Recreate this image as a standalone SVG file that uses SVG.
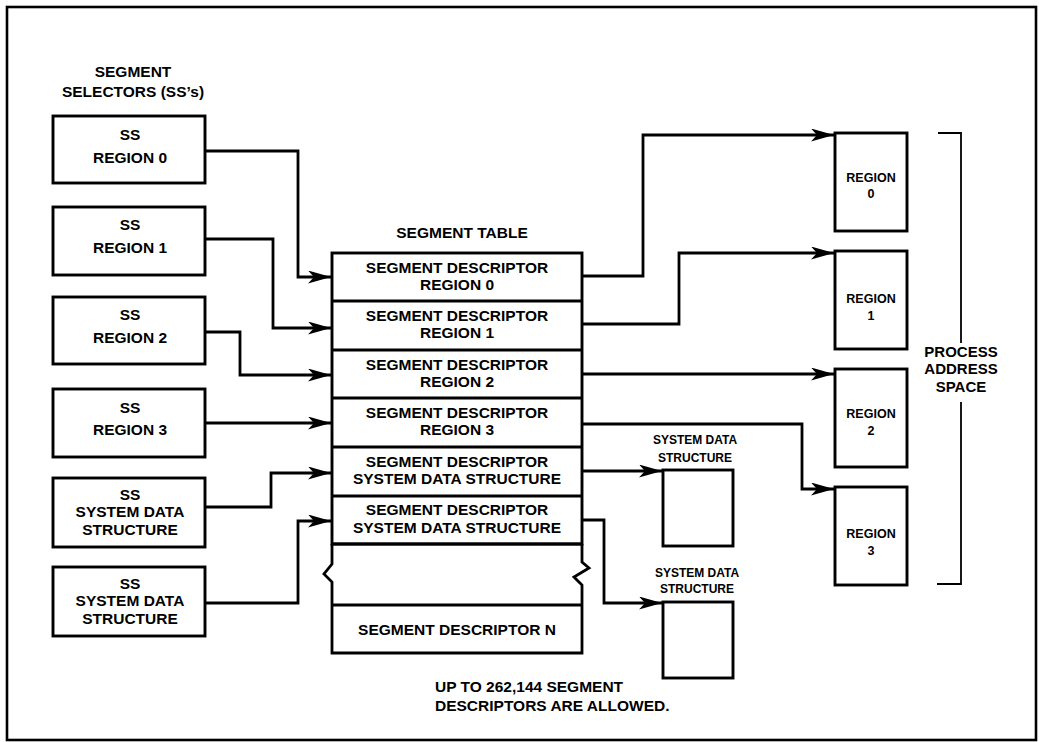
<svg xmlns="http://www.w3.org/2000/svg" width="1039" height="742" viewBox="0 0 1039 742">
<style>
.bx{fill:#fff;stroke:#000;stroke-width:2.9}
.ln{fill:none;stroke:#000;stroke-width:2.8;stroke-linejoin:miter}
.t{font-family:"Liberation Sans",Arial,sans-serif;font-weight:bold;fill:#000;text-anchor:middle}
.a{font-size:15.5px}
.b{font-size:15px}
.r{font-size:12.5px}
.s{font-size:12px}
</style>
<defs>
<marker id="ah" markerWidth="24" markerHeight="13" refX="23" refY="6.5" orient="auto" markerUnits="userSpaceOnUse">
<path d="M0,0 L23,6.5 L0,13 L6,6.5 z" fill="#000"/>
</marker>
</defs>
<rect x="0" y="0" width="1039" height="742" fill="#fff"/>
<rect x="7" y="7" width="1029" height="733" fill="none" stroke="#000" stroke-width="2.6"/>

<g id="ss-title">
<text class="t a" x="133" y="77">SEGMENT</text>
<text class="t a" x="133" y="97">SELECTORS (SS’s)</text>
</g>

<g id="ss0"><rect class="bx" x="53" y="116" width="152" height="67"/>
<text class="t a" x="130" y="140">SS</text><text class="t a" x="130" y="163">REGION 0</text></g>
<g id="ss1"><rect class="bx" x="53" y="207" width="152" height="68"/>
<text class="t a" x="130" y="230">SS</text><text class="t a" x="130" y="253">REGION 1</text></g>
<g id="ss2"><rect class="bx" x="53" y="297" width="152" height="67"/>
<text class="t a" x="130" y="320">SS</text><text class="t a" x="130" y="343">REGION 2</text></g>
<g id="ss3"><rect class="bx" x="53" y="389" width="152" height="68"/>
<text class="t a" x="130" y="413">SS</text><text class="t a" x="130" y="435">REGION 3</text></g>
<g id="ss4"><rect class="bx" x="53" y="478" width="152" height="69"/>
<text class="t a" x="130" y="500">SS</text><text class="t a" x="130" y="517">SYSTEM DATA</text><text class="t a" x="130" y="535">STRUCTURE</text></g>
<g id="ss5"><rect class="bx" x="53" y="567" width="152" height="69"/>
<text class="t a" x="130" y="589">SS</text><text class="t a" x="130" y="606">SYSTEM DATA</text><text class="t a" x="130" y="624">STRUCTURE</text></g>

<g id="segment-table">
<text class="t a" x="462" y="238">SEGMENT TABLE</text>
<rect class="bx" x="332" y="253" width="250" height="291"/>
<path class="ln" d="M332,301 H582 M332,350 H582 M332,398 H582 M332,447 H582 M332,496 H582 M332,544 H582"/>
<path class="ln" d="M332,544 V564 L324,574 L332,582 V653 H582 V585 L574,577 L589,568 L582,562 V544"/>
<path class="ln" d="M332,605 H582"/>
<text class="t a" x="457" y="273">SEGMENT DESCRIPTOR</text><text class="t a" x="457" y="290">REGION 0</text>
<text class="t a" x="457" y="321">SEGMENT DESCRIPTOR</text><text class="t a" x="457" y="338">REGION 1</text>
<text class="t a" x="457" y="370">SEGMENT DESCRIPTOR</text><text class="t a" x="457" y="387">REGION 2</text>
<text class="t a" x="457" y="418">SEGMENT DESCRIPTOR</text><text class="t a" x="457" y="435">REGION 3</text>
<text class="t a" x="457" y="467">SEGMENT DESCRIPTOR</text><text class="t a" x="457" y="484">SYSTEM DATA STRUCTURE</text>
<text class="t a" x="457" y="515">SEGMENT DESCRIPTOR</text><text class="t a" x="457" y="533">SYSTEM DATA STRUCTURE</text>
<text class="t a" x="457" y="635">SEGMENT DESCRIPTOR N</text>
</g>

<g id="note">
<text class="t a" x="435" y="692" style="text-anchor:start">UP TO 262,144 SEGMENT</text>
<text class="t a" x="435" y="711" style="text-anchor:start">DESCRIPTORS ARE ALLOWED.</text>
</g>

<g id="region0"><rect class="bx" x="835" y="133" width="72" height="98"/>
<text class="t r" x="871" y="182">REGION</text><text class="t r" x="871" y="198">0</text></g>
<g id="region1"><rect class="bx" x="835" y="251" width="72" height="98"/>
<text class="t r" x="871" y="303">REGION</text><text class="t r" x="871" y="320">1</text></g>
<g id="region2"><rect class="bx" x="835" y="369" width="72" height="98"/>
<text class="t r" x="871" y="418">REGION</text><text class="t r" x="871" y="435">2</text></g>
<g id="region3"><rect class="bx" x="835" y="487" width="72" height="98"/>
<text class="t r" x="871" y="538">REGION</text><text class="t r" x="871" y="555">3</text></g>

<g id="sds1">
<text class="t s" x="695" y="444">SYSTEM DATA</text><text class="t s" x="695" y="462">STRUCTURE</text>
<rect class="bx" x="663" y="470" width="70" height="76"/></g>
<g id="sds2">
<text class="t s" x="697" y="577">SYSTEM DATA</text><text class="t s" x="697" y="593">STRUCTURE</text>
<rect class="bx" x="663" y="602" width="70" height="76"/></g>

<g id="process-address-space">
<path d="M938,133 H961 V343 M961,402 V584 H937" fill="none" stroke="#000" stroke-width="1.8"/>
<text class="t b" x="961" y="357">PROCESS</text>
<text class="t b" x="961" y="374">ADDRESS</text>
<text class="t b" x="961" y="392">SPACE</text>
</g>

<g id="connectors">
<path class="ln" d="M205,151 H298 V277 H331" marker-end="url(#ah)"/>
<path class="ln" d="M205,239 H273 V328 H331" marker-end="url(#ah)"/>
<path class="ln" d="M205,332 H240 V375 H331" marker-end="url(#ah)"/>
<path class="ln" d="M205,423 H331" marker-end="url(#ah)"/>
<path class="ln" d="M205,507 H271 V473 H331" marker-end="url(#ah)"/>
<path class="ln" d="M205,603 H298 V521 H331" marker-end="url(#ah)"/>
<path class="ln" d="M582,276 H643 V135 H834" marker-end="url(#ah)"/>
<path class="ln" d="M582,324 H679 V253 H834" marker-end="url(#ah)"/>
<path class="ln" d="M582,374 H834" marker-end="url(#ah)"/>
<path class="ln" d="M582,424 H802 V489 H834" marker-end="url(#ah)"/>
<path class="ln" d="M582,471 H662" marker-end="url(#ah)"/>
<path class="ln" d="M582,520 H604 V603 H662" marker-end="url(#ah)"/>
</g>
</svg>
